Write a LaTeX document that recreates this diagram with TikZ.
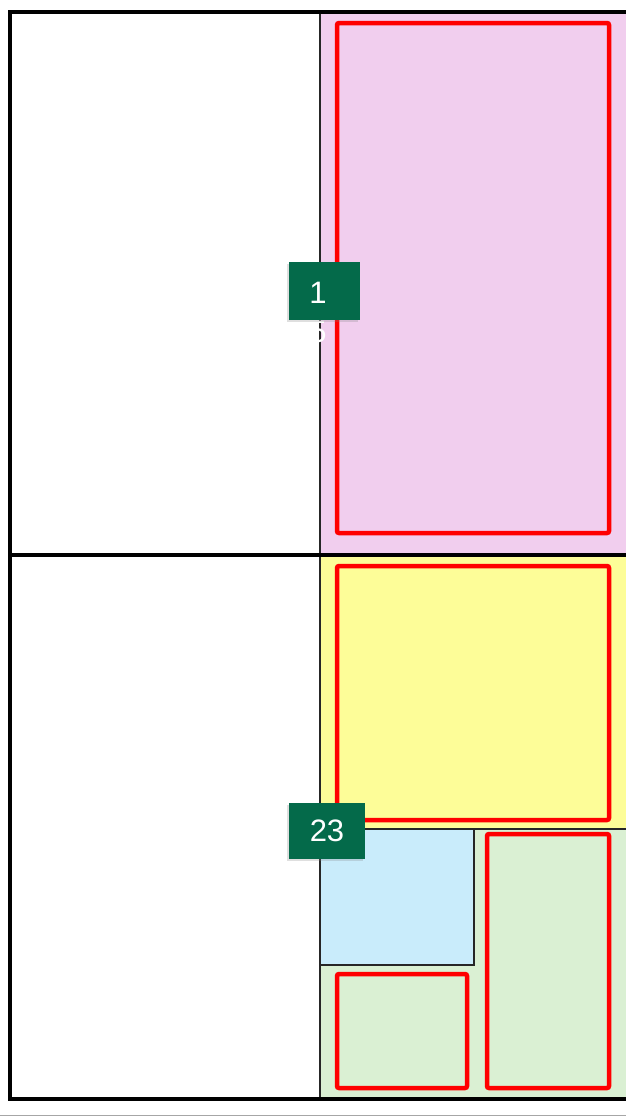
\documentclass[tikz,border=0pt]{standalone}
\usepackage{fontspec}
\setmainfont{Liberation Sans}
\usetikzlibrary{shadows}

\definecolor{pinkfill}{HTML}{F1CEEE}
\definecolor{yellowfill}{HTML}{FDFD98}
\definecolor{bluefill}{HTML}{C9ECFB}
\definecolor{greenfill}{HTML}{DAF0D3}
\definecolor{tagteal}{HTML}{046A4A}

\begin{document}
\begin{tikzpicture}[x=1pt,y=-1pt,
    redbox/.style={draw=red, line width=4.5pt, rounded corners=2pt},
    tagbox/.style={fill=tagteal, text=white, inner sep=0pt,
      drop shadow={shadow xshift=-2pt, shadow yshift=-2pt, opacity=.25}},
    tagtext/.style={text=white, font=\fontsize{31}{36}\selectfont}]
  \useasboundingbox (0,0) rectangle (626,1117);
  \clip (0,0) rectangle (626,1117);
  % coloured areas
  \fill[pinkfill] (320,12) rectangle (630,555);
  \fill[yellowfill] (320,555) rectangle (630,829);
  \fill[greenfill] (320,829) rectangle (630,1099);
  \draw[black!85, fill=bluefill, line width=1.8pt] (320,829) rectangle (474,965);
  % split lines
  \draw[black!85, line width=1.8pt] (320,12) -- (320,1099);
  \draw[black!85, line width=1.8pt] (320,829) -- (630,829);
  \draw[line width=3.5pt] (10,555) -- (630,555);
  \draw[line width=3.5pt] (10,12) rectangle (640,1099);
  \draw[gray!70, line width=1pt] (0,1115) -- (626,1115);
  % red frames
  \draw[redbox] (337,23) rectangle (609,533);
  \draw[redbox] (337,566) rectangle (609,820);
  \draw[redbox] (487,834) rectangle (609,1088);
  \draw[redbox] (337,974) rectangle (467,1088);
  % tags
  \node[tagtext, draw=gray!40, draw opacity=0, text=white] (tagfive) at (318,332) {5};
  \node[tagbox, minimum width=71pt, minimum height=58pt] (tagone) at (324.5,291) {};
  \node[tagtext] (tagonetext) at (318,293) {1};
  \node[tagbox, tagtext, minimum width=76pt, minimum height=56pt] (tagtwothree) at (327,831) {23};
\end{tikzpicture}
\end{document}
